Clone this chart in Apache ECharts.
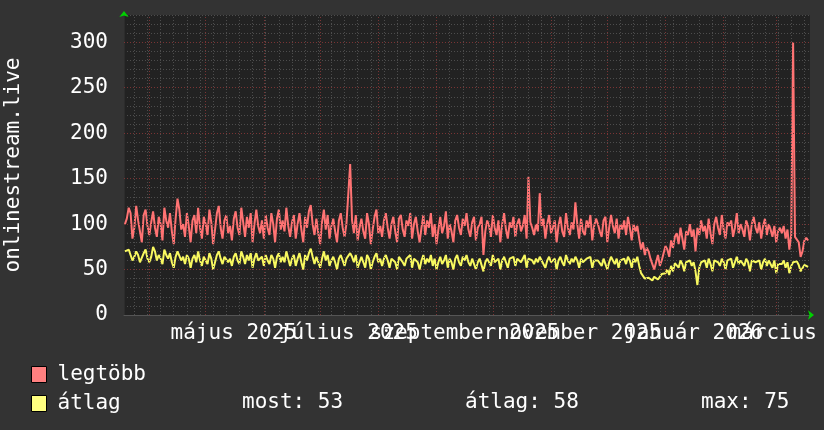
<!DOCTYPE html>
<html><head><meta charset="utf-8">
<script src="https://cdn.jsdelivr.net/npm/echarts@6/dist/echarts.min.js"></script>
<style>html,body{margin:0;padding:0;background:#333333;}#c{width:824px;height:430px;}</style>
</head><body><div id="c"></div>
<script>
// ---- data (daily values, one row per week, starting 2025-03-19) ----
const startDay = '2025-03-19';
const xMin = '2025-03-18T12:00:00';
const xMax = '2026-03-19T00:00:00';

const legtobb = [
 100,106,118,112,84,96,120,
 104,92,80,110,116,98,88,
 102,114,96,86,108,100,82,
 118,104,96,112,92,78,106,
 128,116,94,100,86,112,98,
 80,104,110,90,118,96,84,
 108,100,88,116,102,78,94,
 112,120,96,84,104,110,90,
 98,82,106,114,96,88,118,
 102,86,108,96,112,80,100,
 116,98,90,104,84,110,96,
 88,112,100,80,106,116,94,
 104,92,118,98,86,102,110,
 84,100,112,94,80,108,96,
 114,121,100,88,106,90,78,
 102,116,94,110,84,98,106,
 92,80,104,112,96,86,100,
 98,166,104,90,110,82,96,
 106,92,84,112,100,78,94,
 108,116,90,98,86,104,112,
 96,84,100,108,92,80,106,
 110,94,86,104,98,112,84,
 100,108,92,80,96,110,88,
 104,96,112,86,100,78,94,
 108,90,98,114,84,100,92,
 80,104,110,96,88,106,98,
 112,94,86,102,108,82,96,
 100,108,66,92,104,98,86,
 110,96,88,104,80,100,112,
 94,84,102,96,108,86,100,
 106,92,98,110,84,152,102,
 96,88,100,92,134,98,106,
 84,100,110,90,96,104,80,
 98,108,92,86,112,96,88,
 102,94,124,100,84,106,92,
 88,104,96,110,82,98,106,
 100,92,86,104,108,80,96,
 110,98,90,106,84,100,94,
 104,88,108,96,82,100,92,
 98,84,72,80,66,74,70,
 62,56,50,58,66,54,60,
 68,76,72,64,82,74,86,
 90,78,96,84,72,92,88,
 100,86,94,70,96,88,104,
 92,98,84,106,90,78,100,
 108,96,88,110,94,84,102,
 98,104,86,96,112,90,100,
 94,86,104,98,82,100,108,
 96,90,102,84,98,106,88,
 100,94,86,98,80,92,96,
 90,98,84,94,72,88,300,
 86,84,80,64,70,82,85,
 82
];

const atlag = [
 70,68,72,66,60,64,70,
 66,58,56,68,72,62,58,
 64,75,70,60,66,62,56,
 72,66,62,68,58,52,64,
 70,68,60,64,56,66,62,
 52,62,66,58,70,60,54,
 64,62,56,68,62,50,58,
 66,70,62,56,64,66,58,
 62,54,64,68,60,56,70,
 64,56,66,60,68,52,62,
 68,60,58,64,54,66,60,
 56,66,62,52,64,68,58,
 64,58,70,62,54,62,66,
 54,62,68,58,50,66,60,
 68,73,64,56,64,58,52,
 62,70,60,66,54,60,64,
 58,50,62,66,60,54,62,
 60,68,64,58,66,52,58,
 64,58,52,66,62,50,58,
 64,68,58,62,54,62,66,
 60,52,62,64,58,50,64,
 66,58,54,62,60,66,52,
 62,64,58,50,60,66,56,
 62,58,66,54,62,50,58,
 64,56,60,66,52,62,58,
 50,62,66,58,54,64,60,
 66,58,54,62,64,50,58,
 62,64,48,58,62,60,54,
 66,58,56,62,50,60,64,
 58,52,62,60,64,54,62,
 64,58,60,66,52,62,60,
 60,56,62,58,64,60,62,
 52,60,64,58,60,62,50,
 60,64,58,54,66,60,56,
 62,58,64,60,52,62,58,
 56,62,60,64,52,60,62,
 60,58,54,62,64,50,58,
 64,60,56,62,52,60,58,
 62,56,64,60,52,62,58,
 64,54,46,44,40,42,41,
 40,38,42,44,39,41,45,
 43,46,50,44,54,48,57,
 58,52,60,56,48,58,56,
 60,54,58,48,33,52,58,
 56,60,52,62,56,48,60,
 62,58,54,62,58,50,60,
 58,62,52,58,64,56,60,
 60,54,62,58,48,60,62,
 58,56,60,50,58,62,54,
 60,58,52,60,46,56,58,
 56,60,52,58,46,54,58,
 57,59,55,48,50,55,56,
 53
];

const yTicks = [0, 50, 100, 150, 200, 250, 300];
const monthLabelDates = ['2025-05-16','2025-07-16','2025-09-16','2025-11-16','2026-01-16','2026-03-16'];
const monthLabels = ['május 2025','július 2025','szeptember 2025','november 2025','január 2026','március 2026'];
const monthStarts = ['2025-04-01','2025-05-01','2025-06-01','2025-07-01','2025-08-01','2025-09-01','2025-10-01','2025-11-01','2025-12-01','2026-01-01','2026-02-01','2026-03-01'];
const firstMonday = '2025-03-24';
const statTexts = ['most: 53', 'átlag: 58', 'max: 75'];
const seriesNames = ['legtöbb', 'átlag'];

// ---- build ----
const ts = s => new Date(s.length === 10 ? s + 'T00:00:00' : s).getTime();
const DAY = 86400000;
const t0 = ts(startDay);
const redData = legtobb.map((v, i) => [t0 + i * DAY, v]);
const yelData = atlag.map((v, i) => [t0 + i * DAY, v]);
const labelTs = monthLabelDates.map(ts);
const labelsA = labelTs.filter((_, i) => i % 2 === 0);
const labelsB = labelTs.filter((_, i) => i % 2 === 1);
const mondays = [];
for (let t = ts(firstMonday); t < ts(xMax); t += 7 * DAY) mondays.push(t);

const FONT = 'DejaVu Sans Mono';
const minorStyle = {color: '#4d4d4d', width: 1, type: [1, 2]};
const majorStyle = {color: '#7a3434', width: 1, type: [1, 2]};
const ml = (arr, key, style) => arr.map(v => ({[key]: v, lineStyle: style}));
const labelFmt = v => { const i = labelTs.indexOf(v); return i >= 0 ? monthLabels[i] : ''; };
const xLabel = vals => ({
  customValues: vals, showMinLabel: true, showMaxLabel: true, hideOverlap: false,
  color: '#ffffff', fontFamily: FONT, fontSize: 21, margin: 8, formatter: labelFmt
});

const chart = echarts.init(document.getElementById('c'), null, {renderer: 'canvas'});
chart.setOption({
  backgroundColor: '#333333',
  animation: false,
  grid: {left: 124, right: 14, top: 15, bottom: 115, show: true, backgroundColor: '#222222', borderWidth: 0, outerBoundsMode: 'none', containLabel: false},
  xAxis: [{
    type: 'value', min: ts(xMin), max: ts(xMax), scale: true, position: 'bottom',
    axisLine: {show: true, lineStyle: {color: '#555555', width: 1}},
    axisTick: {show: false},
    splitLine: {show: false},
    axisLabel: xLabel(labelsA)
  }, {
    type: 'value', min: ts(xMin), max: ts(xMax), scale: true, position: 'bottom',
    axisLine: {show: true, symbol: ['none', 'arrow'], symbolSize: [7, 6], symbolOffset: [0, 4], lineStyle: {color: '#00d000', width: 0}},
    axisTick: {show: false}, splitLine: {show: false},
    axisLabel: xLabel(labelsB)
  }],
  yAxis: [{
    type: 'value', min: 0, max: 330, interval: 10,
    name: 'onlinestream.live', nameLocation: 'middle', nameGap: 100,
    nameTextStyle: {color: '#ffffff', fontFamily: FONT, fontSize: 21},
    axisLine: {show: true, lineStyle: {color: '#2c2c2c', width: 1}},
    axisTick: {show: false},
    axisLabel: {customValues: yTicks, showMinLabel: true, showMaxLabel: true, color: '#ffffff', fontFamily: FONT, fontSize: 21, margin: 16},
    splitLine: {show: true, lineStyle: minorStyle}
  }, {
    type: 'value', min: 0, max: 330, position: 'left',
    axisLine: {show: true, symbol: ['none', 'arrow'], symbolSize: [7, 6], symbolOffset: [0, 4], lineStyle: {color: '#00d000', width: 0}},
    axisTick: {show: false}, axisLabel: {show: false}, splitLine: {show: false}
  }],
  legend: {
    orient: 'vertical', left: 31, top: 364, padding: 0,
    itemWidth: 15, itemHeight: 16, itemGap: 8, icon: 'rect', selectedMode: false,
    textStyle: {color: '#ffffff', fontFamily: FONT, fontSize: 21, lineHeight: 16, padding: [0, 0, 0, 6]},
    data: [
      {name: seriesNames[0], itemStyle: {color: '#ff8080', borderColor: '#000000', borderWidth: 1}},
      {name: seriesNames[1], itemStyle: {color: '#ffff80', borderColor: '#000000', borderWidth: 1}}
    ]
  },
  graphic: [
    {type: 'text', left: 242, top: 392, style: {text: statTexts[0], fill: '#ffffff', font: '21px "' + FONT + '"'}},
    {type: 'text', left: 465, top: 392, style: {text: statTexts[1], fill: '#ffffff', font: '21px "' + FONT + '"'}},
    {type: 'text', left: 701, top: 392, style: {text: statTexts[2], fill: '#ffffff', font: '21px "' + FONT + '"'}}
  ],
  series: [
    {
      name: 'grid', type: 'line', data: [], z: 1, silent: true,
      markLine: {
        silent: true, symbol: ['none', 'none'], label: {show: false}, animation: false,
        emphasis: {disabled: true},
        data: [].concat(
          ml(mondays, 'xAxis', minorStyle),
          ml(monthStarts.map(ts), 'xAxis', majorStyle),
          ml(yTicks.slice(1), 'yAxis', majorStyle)
        )
      }
    },
    {name: seriesNames[0], type: 'line', data: redData, showSymbol: false, z: 3,
     lineStyle: {color: '#ff7373', width: 2}, itemStyle: {color: '#ff8080'}},
    {name: seriesNames[1], type: 'line', data: yelData, showSymbol: false, z: 4,
     lineStyle: {color: '#f8f860', width: 2}, itemStyle: {color: '#ffff80'}}
  ]
});
</script>
</body></html>
